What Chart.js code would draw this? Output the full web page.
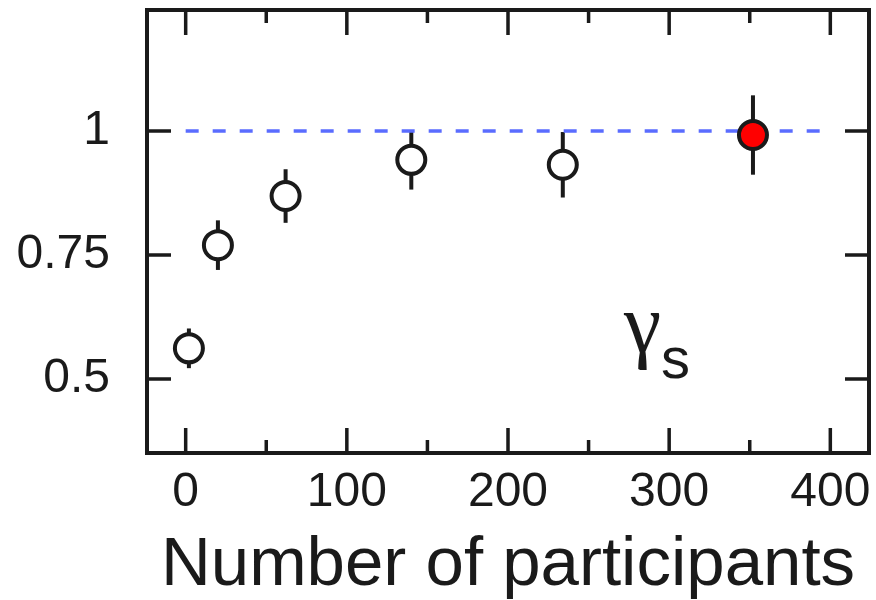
<!DOCTYPE html>
<html>
<head>
<meta charset="utf-8">
<script src="https://cdn.jsdelivr.net/npm/chart.js@4/dist/chart.umd.min.js"></script>
<style>
  html, body { margin: 0; padding: 0; background: #fff; }
  #wrap { width: 876px; height: 600px; }
</style>
</head>
<body>
<div id="wrap"><canvas id="gammaChart" width="876" height="600"></canvas></div>
<script>
// values
const participants = [2, 20, 62, 140, 234, 352]
const gammaS = [0.562, 0.770, 0.869, 0.942, 0.932, 0.992]
const gammaErr = [0.04, 0.05, 0.054, 0.06, 0.066, 0.08]
const refX = [0, 400]
const refY = [1, 1]
const xTicks = [0, 100, 200, 300, 400]
const xMinor = [50, 150, 250, 350]
const yTicks = [0.5, 0.75, 1]

const ink = '#1a1a1a'

// error bars under the markers, frame + inner ticks + label on top
const framePlugin = {
  id: 'framePlugin',
  beforeDatasetsDraw(chart) {
    const ctx = chart.ctx
    const xs = chart.scales.x, ys = chart.scales.y
    ctx.save()
    ctx.strokeStyle = ink
    ctx.lineWidth = 4
    for (let i = 0; i < participants.length; i++) {
      const px = xs.getPixelForValue(participants[i])
      ctx.beginPath()
      ctx.moveTo(px, ys.getPixelForValue(gammaS[i] + gammaErr[i]))
      ctx.lineTo(px, ys.getPixelForValue(gammaS[i] - gammaErr[i]))
      ctx.stroke()
    }
    ctx.restore()
  },
  afterDraw(chart) {
    const ctx = chart.ctx
    const a = chart.chartArea
    const xs = chart.scales.x, ys = chart.scales.y
    ctx.save()
    ctx.strokeStyle = ink
    ctx.lineWidth = 3.5
    ctx.beginPath()
    xTicks.forEach(v => {
      const p = xs.getPixelForValue(v)
      ctx.moveTo(p, a.top); ctx.lineTo(p, a.top + 25)
      ctx.moveTo(p, a.bottom); ctx.lineTo(p, a.bottom - 25)
    })
    xMinor.forEach(v => {
      const p = xs.getPixelForValue(v)
      ctx.moveTo(p, a.top); ctx.lineTo(p, a.top + 13)
      ctx.moveTo(p, a.bottom); ctx.lineTo(p, a.bottom - 13)
    })
    yTicks.forEach(v => {
      const p = ys.getPixelForValue(v)
      ctx.moveTo(a.left, p); ctx.lineTo(a.left + 24, p)
      ctx.moveTo(a.right, p); ctx.lineTo(a.right - 24, p)
    })
    ctx.stroke()
    ctx.lineWidth = 4
    ctx.strokeRect(a.left, a.top, a.right - a.left, a.bottom - a.top)

    // gamma_s label
    ctx.fillStyle = ink
    ctx.textBaseline = 'alphabetic'
    ctx.font = '84px "Liberation Serif"'
    ctx.fillText('γ', a.left + 477, a.top + 342)
    ctx.font = '58px "Liberation Sans"'
    ctx.fillText('s', a.left + 514, a.top + 368)
    ctx.restore()
  }
}

const fixTicks = vals => scale => { scale.ticks = vals.map(v => ({ value: v })) }

new Chart(document.getElementById('gammaChart'), {
  type: 'scatter',
  data: {
    datasets: [
      {
        type: 'line',
        data: refX.map((x, i) => ({ x: x, y: refY[i] })),
        borderColor: '#5a6cff',
        borderWidth: 3.5,
        borderDash: [13, 14],
        pointRadius: 0,
        fill: false,
        order: 2
      },
      {
        data: participants.map((x, i) => ({ x: x, y: gammaS[i] })),
        pointRadius: 14,
        pointBorderWidth: 4,
        pointBorderColor: ink,
        pointBackgroundColor: participants.map((_, i) => i === participants.length - 1 ? '#ff0000' : '#ffffff'),
        order: 1
      }
    ]
  },
  options: {
    responsive: false,
    devicePixelRatio: 1,
    animation: false,
    layout: { autoPadding: false, padding: { top: 10, right: 7, left: 0, bottom: 0 } },
    plugins: { legend: { display: false }, tooltip: { enabled: false } },
    scales: {
      x: {
        type: 'linear',
        min: -24,
        max: 424,
        afterBuildTicks: fixTicks(xTicks),
        afterFit(scale) { scale.height = 147; scale.paddingLeft = 0; scale.paddingRight = 0 },
        grid: { display: false, drawTicks: false },
        border: { display: false },
        ticks: {
          padding: 11,
          color: ink,
          font: { family: 'Liberation Sans', size: 48 },
          callback: v => String(v)
        },
        title: {
          display: true,
          text: 'Number of participants',
          color: ink,
          padding: 0,
          font: { family: 'Liberation Sans', size: 69, lineHeight: 1 }
        }
      },
      y: {
        type: 'linear',
        min: 0.351,
        max: 1.244,
        afterBuildTicks: fixTicks(yTicks),
        afterFit(scale) { scale.width = 147; scale.paddingTop = 0; scale.paddingBottom = 0 },
        grid: { display: false, drawTicks: false },
        border: { display: false },
        ticks: {
          padding: 37,
          color: ink,
          font: { family: 'Liberation Sans', size: 48 },
          callback: v => String(v)
        }
      }
    }
  },
  plugins: [framePlugin]
})
</script>
</body>
</html>
